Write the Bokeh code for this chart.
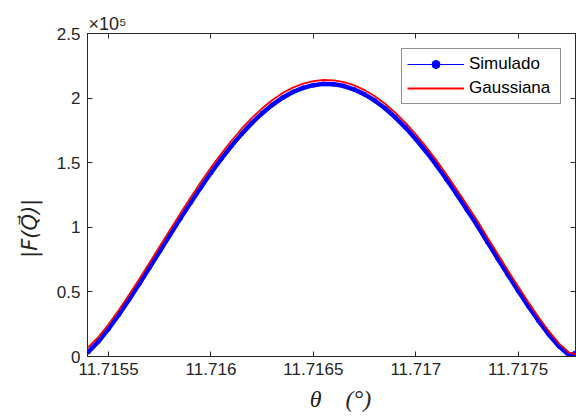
import math
from bokeh.plotting import figure
from bokeh.models import (Range1d, FixedTicker, CustomJSTickFormatter, LinearAxis,
                          Legend, LegendItem, ColumnDataSource)
from bokeh.embed import file_html
from bokeh.resources import INLINE

# ---- data ----
theta = [11.7154 + 0.00005 * k for k in range(49)]
simulado = [0.034, 0.116, 0.215, 0.324, 0.441, 0.563, 0.688, 0.815, 0.941, 1.067,
            1.189, 1.308, 1.422, 1.529, 1.630, 1.723, 1.808, 1.883, 1.948, 2.003,
            2.047, 2.079, 2.100, 2.110, 2.107, 2.093, 2.066, 2.029, 1.980, 1.921,
            1.851, 1.772, 1.683, 1.587, 1.483, 1.372, 1.256, 1.135, 1.016, 0.885,
            0.759, 0.632, 0.509, 0.389, 0.275, 0.170, 0.078, 0.008, 0.040]
gaussiana = [0.070, 0.150, 0.250, 0.360, 0.478, 0.600, 0.726, 0.853, 0.980, 1.106,
             1.228, 1.348, 1.462, 1.569, 1.670, 1.763, 1.847, 1.921, 1.985, 2.039,
             2.081, 2.112, 2.131, 2.140, 2.137, 2.124, 2.098, 2.062, 2.014, 1.956,
             1.887, 1.809, 1.720, 1.624, 1.520, 1.409, 1.293, 1.172, 1.052, 0.921,
             0.794, 0.666, 0.542, 0.420, 0.304, 0.196, 0.100, 0.030, 0.010]
scale = 1e5
simulado = [v * scale for v in simulado]
gaussiana = [v * scale for v in gaussiana]
x_ticks = [11.7155, 11.716, 11.7165, 11.717, 11.7175]
y_ticks = [0, 0.5e5, 1.0e5, 1.5e5, 2.0e5, 2.5e5]
series_names = ["Simulado", "Gaussiana"]

AX = "#262626"
TICK_FONT = "Liberation Sans"
NB = "\u00a0"

p = figure(width=576, height=420, output_backend="svg", toolbar_location=None,
           x_range=Range1d(11.715397, 11.71778), y_range=Range1d(0, 2.5e5),
           min_border_left=87, min_border_right=1, min_border_top=33, min_border_bottom=64,
           title="×10⁵")
p.grid.visible = False
p.outline_line_color = AX
p.outline_line_width = 1
p.background_fill_color = "white"
p.border_fill_color = "white"

p.title.align = "left"
p.title.offset = 1
p.title.text_font = TICK_FONT
p.title.text_font_size = "18px"
p.title.text_font_style = "normal"
p.title.text_color = AX
p.title.standoff = 0

xfmt = CustomJSTickFormatter(code="return parseFloat(tick.toFixed(4)).toString();")
yfmt = CustomJSTickFormatter(code="return parseFloat((tick/1e5).toFixed(2)).toString();")
blank = CustomJSTickFormatter(code="return '';")

def style_axis(ax):
    ax.axis_line_color = AX
    ax.major_tick_line_color = AX
    ax.minor_tick_line_color = None
    ax.major_tick_in = 5
    ax.major_tick_out = 0
    ax.major_label_text_color = AX
    ax.major_label_text_font = TICK_FONT
    ax.major_label_text_font_size = "17px"

xa = p.xaxis[0]
xa.ticker = FixedTicker(ticks=x_ticks)
xa.formatter = xfmt
xa.major_label_standoff = 6
style_axis(xa)
xa.axis_label = NB * 3 + "θ" + NB * 4 + "(°)"
xa.axis_label_text_font = "Liberation Serif"
xa.axis_label_text_font_style = "italic"
xa.axis_label_text_font_size = "24px"
xa.axis_label_text_color = AX
xa.axis_label_standoff = 8

ya = p.yaxis[0]
ya.ticker = FixedTicker(ticks=y_ticks)
ya.formatter = yfmt
ya.major_label_standoff = 7
style_axis(ya)
ya.axis_label = "|F(Q\u20d7)|" + NB * 10
ya.axis_label_text_font = "DejaVu Sans"
ya.axis_label_text_font_style = "italic"
ya.axis_label_text_font_size = "21px"
ya.axis_label_text_color = AX
ya.axis_label_standoff = 12

top = LinearAxis(ticker=FixedTicker(ticks=x_ticks), formatter=blank)
style_axis(top)
top.major_label_standoff = 0
p.add_layout(top, "above")
right = LinearAxis(ticker=FixedTicker(ticks=y_ticks), formatter=blank)
style_axis(right)
right.major_label_standoff = 0
p.add_layout(right, "right")

src = ColumnDataSource(dict(x=theta, sim=simulado, gau=gaussiana))
p.line("x", "sim", source=src, line_color="#0000ff", line_width=4.5)
blue_line = p.line("x", "sim", source=src, line_color="#0000ff", line_width=1.2)
blue_dots = p.scatter("x", "sim", source=src, marker="circle", size=4,
                      fill_color="#0000ff", line_color="#0000ff")
red_line = p.line("x", "gau", source=src, line_color="#ff0000", line_width=1.8)

legend = Legend(items=[LegendItem(label=series_names[0], renderers=[blue_line, blue_dots]),
                       LegendItem(label=series_names[1], renderers=[red_line])],
                location=(314, 252), padding=5, spacing=4, label_height=20, glyph_height=20,
                glyph_width=57, label_standoff=5, label_width=86,
                label_text_font=TICK_FONT, label_text_font_size="17px",
                label_text_color="black", border_line_color=AX, border_line_width=1,
                background_fill_color="white", background_fill_alpha=1)
p.add_layout(legend)

open("out.html", "w").write(file_html(p, INLINE))
